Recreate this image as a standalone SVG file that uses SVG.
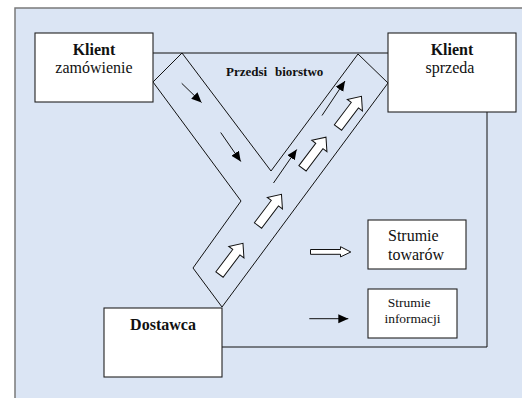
<svg xmlns="http://www.w3.org/2000/svg" xmlns:xlink="http://www.w3.org/1999/xlink" width="522" height="398" viewBox="0 0 522 398">
<style>
.box{fill:#ffffff;stroke:#222;stroke-width:1.1}
.ln{fill:none;stroke:#111;stroke-width:1}
.t{font-family:"Liberation Serif","Times New Roman",serif;font-size:16px;fill:#111}
.b{font-weight:bold}
.blk{fill:#fff;stroke:#111;stroke-width:1}
.info{fill:none;stroke:#111;stroke-width:1;marker-end:url(#ah)}
</style>
<defs>
<marker id="ah" markerUnits="userSpaceOnUse" markerWidth="11" markerHeight="10" refX="10" refY="4.5" orient="auto" viewBox="0 0 11 9">
<path d="M0,0 L10,4.5 L0,9 Z" fill="#000"/>
</marker>
<path id="blockArrow" d="M0,-4.5 L28,-4.5 L28,-9.5 L39,0 L28,9.5 L28,4.5 L0,4.5 Z"/>
</defs>
<rect x="0" y="0" width="522" height="398" fill="#ffffff"/>
<rect x="15" y="8" width="520" height="400" fill="#dbe5f4" stroke="#7a7a7a" stroke-width="1.5"/>

<g id="connectors">
<polyline class="ln" points="153,53 388,53"/>
<polyline class="ln" points="487,112 487,347 222,347"/>
<polygon class="ln" points="153,82 182,53 271,171 358,54 388,83 222,307 193,268 241,201"/>
<line class="info" x1="181.7" y1="83.3" x2="201.5" y2="102.5"/>
<line class="info" x1="220.7" y1="132.5" x2="240.8" y2="161.5"/>
<line class="info" x1="322" y1="115.5" x2="345" y2="81"/>
<line class="info" x1="273.5" y1="183" x2="296.7" y2="149.5"/>
<use xlink:href="#blockArrow" class="blk" transform="translate(219.5,274.5) rotate(-53)"/>
<use xlink:href="#blockArrow" class="blk" transform="translate(258,225.5) rotate(-53)"/>
<use xlink:href="#blockArrow" class="blk" transform="translate(302.5,168.3) rotate(-53)"/>
<use xlink:href="#blockArrow" class="blk" transform="translate(338,127.5) rotate(-53)"/>
</g>

<g id="klient-zamowienie">
<rect class="box" x="35" y="33" width="118" height="69"/>
<text class="t b" x="94" y="55" text-anchor="middle">Klient</text>
<text class="t" x="94" y="73" text-anchor="middle">zamówienie</text>
</g>

<g id="klient-sprzeda">
<rect class="box" x="388" y="33" width="128" height="79"/>
<text class="t b" x="452" y="55" text-anchor="middle">Klient</text>
<text class="t" x="450" y="73" text-anchor="middle">sprzeda</text>
</g>

<g id="przedsiebiorstwo">
<text class="t b" x="226" y="76" font-size="13" style="font-size:13px" word-spacing="4.5">Przedsi biorstwo</text>
</g>

<g id="dostawca">
<rect class="box" x="104" y="308" width="118" height="69"/>
<text class="t b" x="163" y="330" text-anchor="middle">Dostawca</text>
</g>

<g id="legend-towary">
<path class="blk" d="M310.5,249.5 L340.5,249.5 L340.5,246.7 L350.8,252 L340.5,256.9 L340.5,254.3 L310.5,254.3 Z"/>
<rect class="box" x="368" y="220" width="98" height="49"/>
<text class="t" x="388" y="241">Strumie</text>
<text class="t" x="388" y="260">towarów</text>
</g>

<g id="legend-informacje">
<line class="info" x1="309.3" y1="318.7" x2="348.3" y2="318.7"/>
<rect class="box" x="368" y="289" width="89" height="49"/>
<text class="t" x="387.7" y="307.3" style="font-size:13.5px">Strumie</text>
<text class="t" x="412.5" y="323.3" text-anchor="middle" style="font-size:13.5px">informacji</text>
</g>
</svg>
